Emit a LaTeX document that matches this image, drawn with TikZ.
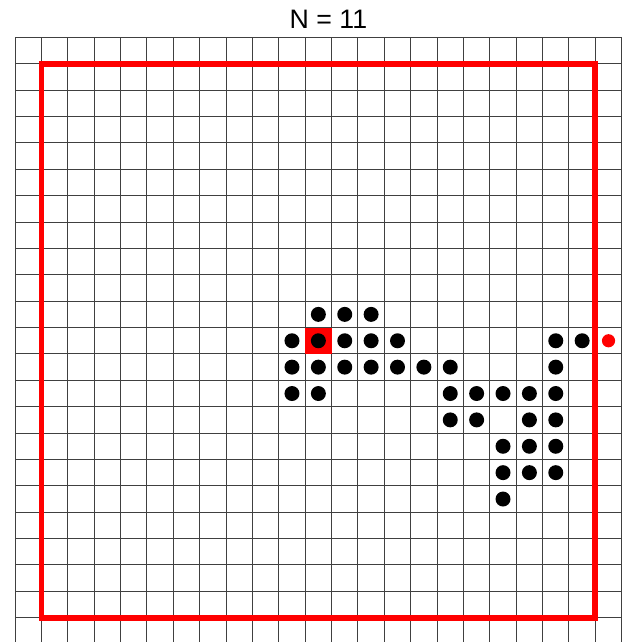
\documentclass[tikz,border=0pt]{standalone}
\usepackage{fontspec}
\setmainfont{Liberation Sans}
\usepackage{xcolor}
\usetikzlibrary{positioning}

\begin{document}
\begin{tikzpicture}[
    x=0.5cm, y=-0.5cm,
    gridline/.style={draw=black!75, line width=0.55pt},
    frame/.style={draw=red, line width=3.1pt, line join=miter},
    seed/.style={fill=red},
    agent/.style={circle, fill=black, inner sep=0pt, minimum size=0.284cm},
    goal/.style={circle, fill=red, inner sep=0pt, minimum size=0.25cm},
    title/.style={font=\fontsize{14.4}{17}\selectfont, anchor=base}
]
\useasboundingbox (-0.569,-1.418) rectangle (23.275,22.92);

\node[title] (heading) at (11.88,-0.353) {N = 11};

% board
\foreach \i in {0,...,23}
    \draw[gridline] (\i,0) -- (\i,22.92);
\foreach \j in {0,...,22}
    \draw[gridline] (0,\j) -- (23,\j);

% start cell and boundary
\fill[seed] (11,11) rectangle (12,12);
\draw[frame] (1,1) rectangle (22,22);

% occupied cells
\foreach \r/\cols in {10/{11,12,13}, 11/{10,11,12,13,14,20,21}, 12/{10,11,12,13,14,15,16,20},
                      13/{10,11,16,17,18,19,20}, 14/{16,17,19,20}, 15/{18,19,20},
                      16/{18,19,20}, 17/{18}}
    \foreach \c in \cols
        \node[agent] (a-\r-\c) at (\c+0.5,\r+0.5) {};

\node[goal] (walker) at (22.5,11.5) {};

\end{tikzpicture}
\end{document}
